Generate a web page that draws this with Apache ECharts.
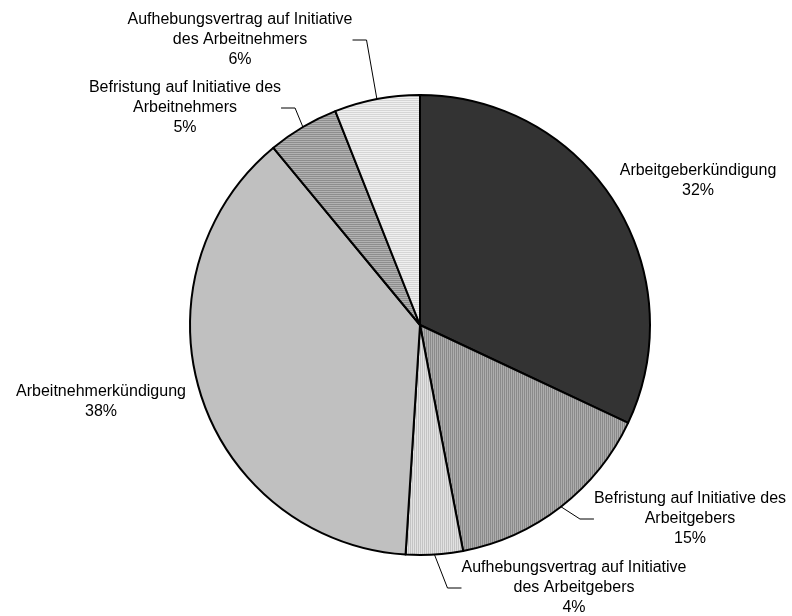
<!DOCTYPE html>
<html>
<head>
<meta charset="utf-8">
<script src="https://cdn.jsdelivr.net/npm/echarts@6/dist/echarts.min.js"></script>
<style>
  html, body { margin: 0; padding: 0; background: #fff; }
  #chart { width: 792px; height: 616px; }
</style>
</head>
<body>
<div id="chart"></div>
<script>
// Gründe für die Beendigung von Arbeitsverhältnissen (Anteile in %)
const categories = [
  'Arbeitgeberkündigung',
  'Befristung auf Initiative des\nArbeitgebers',
  'Aufhebungsvertrag auf Initiative\ndes Arbeitgebers',
  'Arbeitnehmerkündigung',
  'Befristung auf Initiative des\nArbeitnehmers',
  'Aufhebungsvertrag auf Initiative\ndes Arbeitnehmers'
];
const shares = [32, 15, 4, 38, 5, 6];

// Label block centres (pixels) and whether a leader line is drawn
const labelPos = [
  [698, 181],
  [690, 519],
  [574, 588],
  [101, 402],
  [185, 108],
  [240, 40]
];
const showLeader = [false, true, true, false, true, true];

// Small tiles used as hatched fills
function stripes(dir, c1, c2) {
  const cv = document.createElement('canvas');
  cv.width = 2; cv.height = 2;
  const ctx = cv.getContext('2d');
  ctx.fillStyle = c1; ctx.fillRect(0, 0, 2, 2);
  ctx.fillStyle = c2;
  if (dir === 'v') ctx.fillRect(1, 0, 1, 2);
  else ctx.fillRect(0, 1, 2, 1);
  return { image: cv, repeat: 'repeat' };
}

const fills = [
  '#333333',
  stripes('v', '#8a8a8a', '#adadad'),
  stripes('v', '#c4c4c4', '#e2e2e2'),
  '#c0c0c0',
  stripes('h', '#8e8e8e', '#b2b2b2'),
  stripes('h', '#d6d6d6', '#f0f0f0')
];

const chart = echarts.init(document.getElementById('chart'), null, { renderer: 'canvas' });

chart.setOption({
  backgroundColor: '#ffffff',
  animation: false,
  series: [{
    type: 'pie',
    center: [420, 325],
    radius: 230,
    startAngle: 90,
    clockwise: true,
    avoidLabelOverlap: false,
    emphasis: { disabled: true },
    itemStyle: { borderColor: '#000000', borderWidth: 2 },
    label: {
      show: true,
      position: 'outside',
      formatter: p => p.name + '\n' + p.value + '%',
      fontFamily: 'Liberation Sans, Arial, sans-serif',
      fontSize: 16,
      lineHeight: 20,
      color: '#000000',
      align: 'center'
    },
    labelLine: {
      show: true,
      length: 12,
      length2: 14,
      lineStyle: { color: '#000000', width: 1 }
    },
    labelLayout: function (params) {
      const i = params.dataIndex;
      return {
        x: labelPos[i][0],
        y: labelPos[i][1],
        align: 'center',
        verticalAlign: 'middle'
      };
    },
    data: categories.map((name, i) => ({
      name: name,
      value: shares[i],
      itemStyle: { color: fills[i] },
      labelLine: { show: showLeader[i] }
    }))
  }]
});
</script>
</body>
</html>
